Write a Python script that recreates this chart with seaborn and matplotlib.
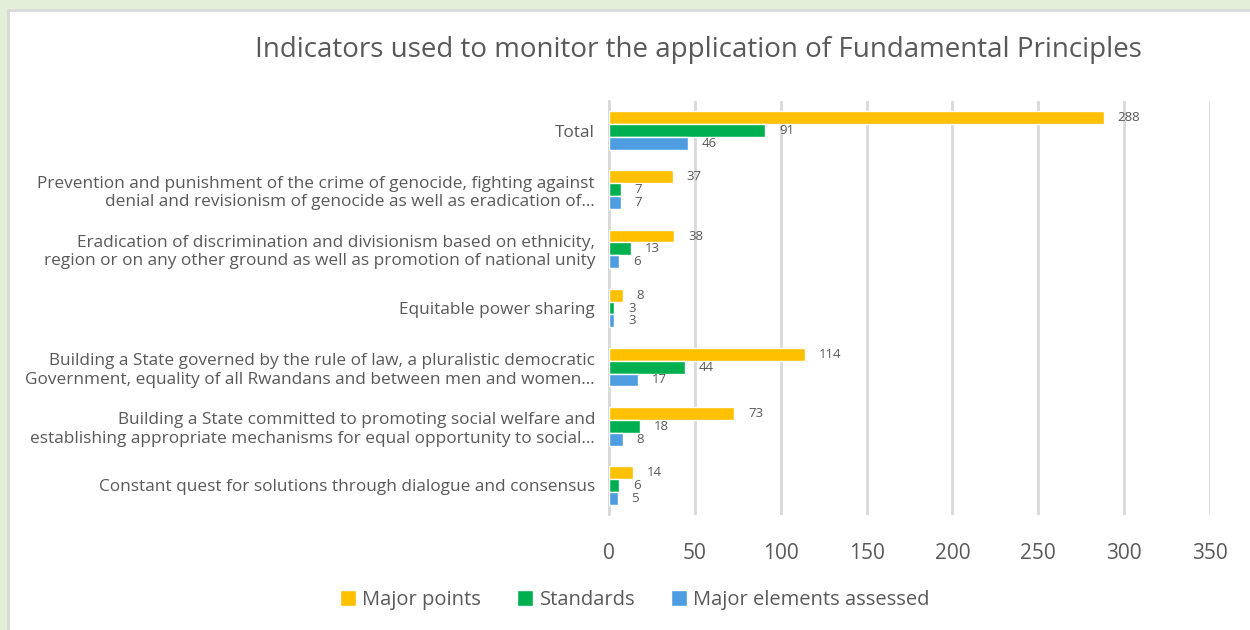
import pandas as pd
import matplotlib.pyplot as plt
import seaborn as sns
from matplotlib.patches import Rectangle

# Données du graphique
categories = [
    "Total",
    "Prevention and punishment of the crime of genocide, fighting against\ndenial and revisionism of genocide as well as eradication of…",
    "Eradication of discrimination and divisionism based on ethnicity,\nregion or on any other ground as well as promotion of national unity",
    "Equitable power sharing",
    "Building a State governed by the rule of law, a pluralistic democratic\nGovernment, equality of all Rwandans and between men and women…",
    "Building a State committed to promoting social welfare and\nestablishing appropriate mechanisms for equal opportunity to social…",
    "Constant quest for solutions through dialogue and consensus",
]
major_points = [288, 37, 38, 8, 114, 73, 14]
standards = [91, 7, 13, 3, 44, 18, 6]
elements_assessed = [46, 7, 6, 3, 17, 8, 5]
series = ["Major points", "Standards", "Major elements assessed"]
couleurs = ["#FFC000", "#00B050", "#4E9DE0"]

df = pd.DataFrame({"categorie": categories,
                   series[0]: major_points,
                   series[1]: standards,
                   series[2]: elements_assessed})
df_long = df.melt(id_vars="categorie", var_name="serie", value_name="valeur")

sns.set_theme(style="white")
plt.rcParams['font.family'] = ['Open Sans', 'DejaVu Sans']
gris = "#595959"

fig = plt.figure(figsize=(12.5, 6.3), dpi=100, facecolor="#E2F0D9")
# cadre blanc du graphique
fig.patches.append(Rectangle((8 / 1250, -0.01), 1.0, 1 - 10 / 630 + 0.01,
                             transform=fig.transFigure, facecolor="white",
                             edgecolor="#D9D9D9", linewidth=2, zorder=-5))
ax = fig.add_axes([609 / 1250, 1 - 515 / 630, (1210 - 609) / 1250, (515 - 101) / 630])
ax.set_facecolor("none")
ax.set_zorder(2)

sns.barplot(data=df_long, y="categorie", x="valeur", hue="serie",
            hue_order=series, palette=couleurs, orient="h", width=0.65,
            saturation=1, ax=ax, zorder=3)

for cont in ax.containers:
    ax.bar_label(cont, padding=10, fontsize=9.5, color=gris)

ax.set_xlim(0, 350)
ax.set_xticks(range(0, 351, 50))
ax.xaxis.grid(True, color="#D9D9D9", linewidth=2, zorder=0)
ax.set_axisbelow(True)
ax.tick_params(axis="x", labelsize=15, colors=gris, length=0, pad=20)
ax.tick_params(axis="y", labelsize=12.4, colors=gris, length=0, pad=10)
for lab in ax.get_yticklabels():
    lab.set_horizontalalignment("right")
for s in ["top", "right", "bottom"]:
    ax.spines[s].set_visible(False)
ax.spines["left"].set_color("#D9D9D9")
ax.spines["left"].set_linewidth(1.5)
ax.set_xlabel("")
ax.set_ylabel("")

fig.text(698 / 1250, 1 - 50 / 630, "Indicators used to monitor the application of Fundamental Principles",
         ha="center", va="center", fontsize=20, color=gris)

handles, labels = ax.get_legend_handles_labels()
ax.legend_.remove()
fig.legend(handles, labels, loc="center", bbox_to_anchor=(635 / 1250, 1 - 600 / 630),
           ncol=3, frameon=False, fontsize=14.5, labelcolor=gris,
           handlelength=0.8, handleheight=0.8, handletextpad=0.3, columnspacing=1.8)

fig.savefig("out.png", dpi=100, facecolor=fig.get_facecolor())
